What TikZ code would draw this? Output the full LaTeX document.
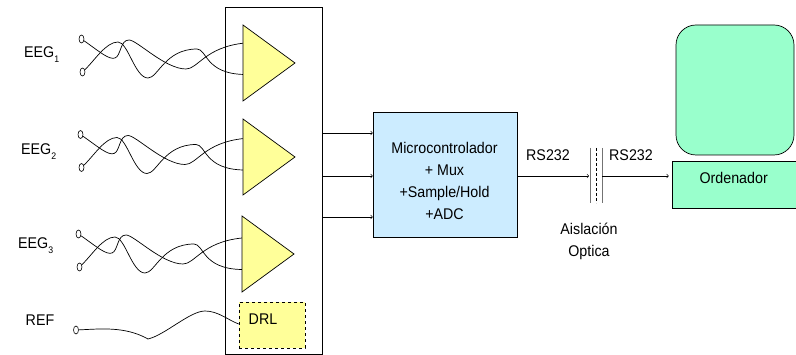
\documentclass[tikz,border=0pt]{standalone}
\usepackage{fontspec}
\setmainfont[FakeStretch=0.92]{Liberation Sans}
\usetikzlibrary{shapes.geometric}
\definecolor{ampyellow}{HTML}{FFFF99}
\definecolor{microblue}{HTML}{CCECFF}
\definecolor{pcgreen}{HTML}{99FFCC}
\newcommand{\lowsub}[1]{\raisebox{-4.5pt}{\fontsize{9.5}{10}\selectfont #1}}
\tikzset{
  term/.style={draw,ellipse,fill=white,inner sep=0pt,minimum width=5pt,minimum height=8pt,line width=.6pt},
  wire/.style={line width=.7pt},
  amp/.style={draw,fill=ampyellow,line width=.7pt},
  block/.style={draw,line width=.7pt,align=center,inner sep=0pt},
  sig/.style={->,>=to,line width=.6pt},
  txt/.style={inner sep=0pt,align=center}
}
\begin{document}
\begin{tikzpicture}[x=1pt,y=-1pt,font=\fontsize{15.5}{22}\selectfont]
\useasboundingbox (0,0) rectangle (796,355);
\node[block,minimum width=96.5pt,minimum height=347pt] (rack) at (273.7,180.5) {};
\foreach \n/\wx/\wy/\ax/\ay in {1/0/0/0/0,2/-1/95.5/0/94,3/-3/195/-1/191}{
  \begin{scope}[shift={(\wx,\wy)}]
    \node[term] (ta\n) at (81.5,39) {};
    \node[term] (tb\n) at (82.5,72) {};
    \coordinate (pa\n) at (245,43);
    \coordinate (pb\n) at (245,74.5);
    \draw[wire] (ta\n) .. controls (100,52) and (109,60) .. (115,58) .. controls (121,56) and (120,40) .. (129,40) .. controls (137,40) and (165,69) .. (186,69) .. controls (198,69) and (205,47) .. (pa\n);
    \draw[wire] (tb\n) .. controls (95,60) and (106,42) .. (118,42) .. controls (128,42) and (135,78) .. (148,78) .. controls (158,78) and (165,49) .. (197,49) .. controls (207,49) and (205,74) .. (pb\n);
  \end{scope}
  \draw[amp,shift={(\ax,\ay)}] (243,25) -- (295,63) -- (243,101) -- cycle;
}
\node[txt,anchor=base west] (eeg1) at (24,58) {EEG\lowsub{1}};
\node[txt,anchor=base west] (eeg2) at (21,155) {EEG\lowsub{2}};
\node[txt,anchor=base west] (eeg3) at (18,249) {EEG\lowsub{3}};
\node[txt] (ref) at (40,320) {REF};

\node[term] (tref) at (76,330) {};
\node[block,fill=ampyellow,dashed,minimum width=66pt,minimum height=46pt] (drl) at (272,325) {};
\node[txt] (drltxt) at (263,319) {DRL};
\draw[wire] (tref) .. controls (100,329) and (125,326) .. (148,339) .. controls (165,335) and (190,311) .. (205,311) .. controls (218,311) and (228,320) .. (drl.west |- 0,324);

\node[block,fill=microblue,minimum width=144pt,minimum height=125pt] (micro) at (445,174.5) {};
\node[txt] (microtxt) at (444.5,181) {Microcontrolador\\+ Mux\\+Sample/Hold\\+ADC};
\foreach \y in {133,176,217}
  \draw[sig] (rack.east |- 0,\y) -- (micro.west |- 0,\y);

\coordinate (isoin) at (589,176);
\coordinate (isoout) at (602,176);
\draw[line width=.8pt,black!55] (590,148) -- (590,203) (602,148) -- (602,203);
\draw[line width=.6pt,densely dashed] (596,148) -- (596,203);
\draw[sig] (micro.east |- isoin) -- (isoin);
\node[block,fill=pcgreen,minimum width=124pt,minimum height=47pt] (pc) at (734,184.5) {};
\node[txt] (pctxt) at (733.7,178) {Ordenador};
\node[block,fill=pcgreen,rounded corners=20pt,minimum width=118pt,minimum height=130pt] (screen) at (735,90) {};
\draw[sig,shorten >=3pt] (isoout) -- (pc.west |- isoout);
\node[txt] (rsa) at (548,155) {RS232};
\node[txt] (rsb) at (631,155) {RS232};
\node[txt] (iso) at (589,241) {Aislación\\Optica};
\end{tikzpicture}
\end{document}
